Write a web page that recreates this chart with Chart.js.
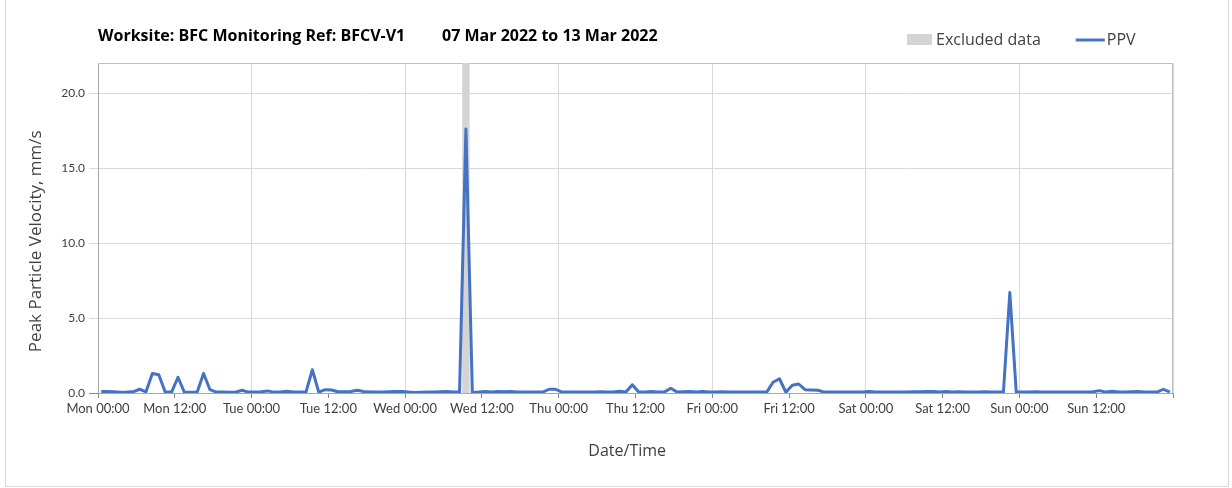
<!DOCTYPE html>
<html>
<head>
<meta charset="utf-8">
<title>PPV BFCV-V1</title>
<script src="https://cdn.jsdelivr.net/npm/chart.js@4.4.1/dist/chart.umd.min.js"></script>
<style>
    body { margin: 0; background: #ffffff; }
    #frame {
        position: absolute; left: 5px; top: 0;
        width: 1222px; height: 486px;
        border: 1px solid #d9d9d9; border-top: none;
    }
    canvas { display: block; }
</style>
</head>
<body>
<div id="frame"><canvas id="ppvChart" width="1222" height="486"></canvas></div>
<script>
var chartTitle = 'Worksite: BFC Monitoring Ref: BFCV-V1';
var chartPeriod = '07 Mar 2022 to 13 Mar 2022';
var dayNames = ['Mon', 'Tue', 'Wed', 'Thu', 'Fri', 'Sat', 'Sun'];
var tickTimes = ['00:00', '12:00'];

// Peak particle velocity (mm/s), one reading per hour, taken at hh:30
var ppvMon = [0.10, 0.10, 0.08, 0.05, 0.06, 0.08, 0.25, 0.08, 1.30, 1.22, 0.06, 0.06,
              1.05, 0.05, 0.05, 0.06, 1.30, 0.22, 0.06, 0.06, 0.05, 0.05, 0.18, 0.06];
var ppvTue = [0.06, 0.08, 0.14, 0.06, 0.06, 0.12, 0.06, 0.06, 0.06, 1.55, 0.06, 0.22,
              0.20, 0.08, 0.08, 0.10, 0.18, 0.10, 0.06, 0.06, 0.06, 0.08, 0.10, 0.10];
var ppvWed = [0.06, 0.04, 0.05, 0.06, 0.06, 0.08, 0.10, 0.06, 0.06, 17.6, 0.05, 0.06,
              0.10, 0.06, 0.10, 0.08, 0.10, 0.06, 0.06, 0.06, 0.06, 0.06, 0.25, 0.25];
var ppvThu = [0.06, 0.06, 0.06, 0.06, 0.06, 0.06, 0.08, 0.06, 0.06, 0.12, 0.06, 0.55,
              0.06, 0.06, 0.10, 0.06, 0.06, 0.32, 0.06, 0.08, 0.10, 0.06, 0.10, 0.06];
var ppvFri = [0.06, 0.08, 0.06, 0.06, 0.06, 0.06, 0.06, 0.06, 0.06, 0.72, 0.95, 0.05,
              0.52, 0.60, 0.22, 0.20, 0.18, 0.06, 0.06, 0.06, 0.06, 0.06, 0.06, 0.06];
var ppvSat = [0.10, 0.06, 0.06, 0.06, 0.06, 0.06, 0.06, 0.08, 0.08, 0.10, 0.10, 0.06,
              0.10, 0.06, 0.08, 0.06, 0.06, 0.06, 0.08, 0.06, 0.06, 0.06, 6.70, 0.06];
var ppvSun = [0.06, 0.06, 0.08, 0.06, 0.06, 0.06, 0.06, 0.06, 0.06, 0.06, 0.06, 0.08,
              0.16, 0.06, 0.12, 0.06, 0.06, 0.08, 0.10, 0.06, 0.06, 0.06, 0.25, 0.06];

// excluded period, hours after Mon 00:00
var excludedFrom = 56.9;
var excludedTo = 58.1;
var yMax = 22;

var ppv = [].concat(ppvMon, ppvTue, ppvWed, ppvThu, ppvFri, ppvSat, ppvSun);
var ppvPoints = ppv.map(function(v, i) { return { x: i + 0.5, y: v }; });

var textColor = '#404040';
var gridColor = '#d9d9d9';
var axisColor = '#a6a6a6';
var uiFont = "'Open Sans'";

// title, legend and plot frame
var headerPlugin = {
    id: 'header',
    beforeDatasetsDraw: function(chart) {
        var a = chart.chartArea;
        var ctx = chart.ctx;
        ctx.save();
        ctx.strokeStyle = '#bfbfbf';
        ctx.lineWidth = 1;
        ctx.beginPath();
        ctx.moveTo(a.left, a.top + 0.5);
        ctx.lineTo(a.right - 0.5, a.top + 0.5);
        ctx.lineTo(a.right - 0.5, a.bottom);
        ctx.stroke();
        ctx.restore();
    },
    afterDraw: function(chart) {
        var ctx = chart.ctx;
        var sets = chart.data.datasets;
        ctx.save();
        ctx.textBaseline = 'middle';
        ctx.textAlign = 'left';

        ctx.fillStyle = '#000000';
        ctx.font = 'bold 16px ' + uiFont;
        ctx.fillText(chartTitle, 92, 36);
        ctx.fillText(chartPeriod, 436, 36);

        ctx.font = '16px ' + uiFont;
        var x = 901;
        ctx.fillStyle = sets[0].backgroundColor;
        ctx.fillRect(x, 34, 25, 11);
        x += 29;
        ctx.fillStyle = textColor;
        ctx.fillText(sets[0].label, x, 40);
        x += ctx.measureText(sets[0].label).width + 35;
        ctx.strokeStyle = sets[1].borderColor;
        ctx.lineWidth = 3;
        ctx.beginPath();
        ctx.moveTo(x, 40);
        ctx.lineTo(x + 29, 40);
        ctx.stroke();
        x += 31;
        ctx.fillText(sets[1].label, x, 40);
        ctx.restore();
    }
};

new Chart(document.getElementById('ppvChart'), {
    type: 'line',
    data: {
        datasets: [{
            label: 'Excluded data',
            data: [{ x: excludedFrom, y: yMax }, { x: excludedTo, y: yMax }],
            backgroundColor: '#d4d4d4',
            borderWidth: 0,
            pointRadius: 0,
            fill: 'origin',
            order: 1
        }, {
            label: 'PPV',
            data: ppvPoints,
            borderColor: '#4472c4',
            borderWidth: 3,
            borderJoinStyle: 'round',
            pointRadius: 0,
            tension: 0,
            fill: false,
            order: 0
        }]
    },
    options: {
        responsive: false,
        animation: false,
        layout: { padding: { left: 0, right: 55, top: 63, bottom: 0 } },
        plugins: {
            legend: { display: false },
            tooltip: { enabled: false }
        },
        scales: {
            x: {
                type: 'linear',
                min: 0,
                max: 168,
                afterFit: function(scale) { scale.height = 93; },
                ticks: {
                    stepSize: 12,
                    autoSkip: false,
                    maxRotation: 0,
                    padding: 3,
                    color: textColor,
                    font: { family: 'Lato', size: 13 },
                    callback: function(v) {
                        if (v >= 168) return '';
                        return dayNames[Math.floor(v / 24)] + ' ' + tickTimes[(v % 24) / 12];
                    }
                },
                grid: {
                    color: function(c) {
                        return c.tick && c.tick.value % 24 === 0 ? gridColor : 'rgba(0,0,0,0)';
                    },
                    tickColor: '#868686',
                    tickLength: 5
                },
                border: { color: axisColor },
                title: {
                    display: true,
                    text: 'Date/Time    ',
                    color: textColor,
                    font: { family: uiFont, size: 16 },
                    padding: { top: 0, bottom: 25 }
                }
            },
            y: {
                min: 0,
                max: yMax,
                afterFit: function(scale) { scale.width = 92; },
                ticks: {
                    stepSize: 5,
                    includeBounds: false,
                    padding: 4,
                    color: textColor,
                    font: { family: 'Lato', size: 12 },
                    callback: function(v) { return v.toFixed(1); }
                },
                grid: {
                    color: gridColor,
                    tickColor: function(c) { return c.tick && c.tick.value === 0 ? '#868686' : gridColor; },
                    tickLength: 9
                },
                border: { color: axisColor },
                title: {
                    display: true,
                    text: 'Peak Particle Velocity, mm/s      ',
                    color: textColor,
                    font: { family: uiFont, size: 17 },
                    padding: { top: 20, bottom: 0 }
                }
            }
        }
    },
    plugins: [headerPlugin]
});
</script>
</body>
</html>
